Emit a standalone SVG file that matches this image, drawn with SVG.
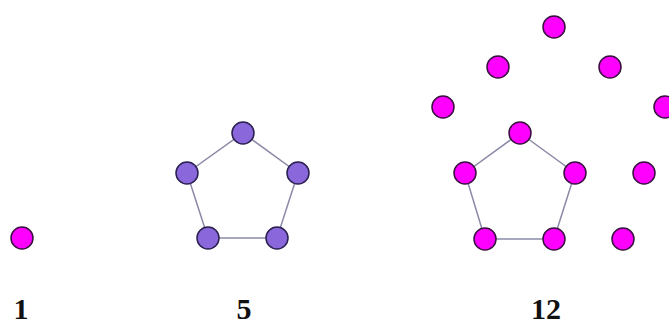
<svg xmlns="http://www.w3.org/2000/svg" width="669" height="324" viewBox="0 0 669 324">
<style>
.m{fill:#ff00ff;stroke:#3a1040;stroke-width:1.5}
.p{fill:#8a68dc;stroke:#2a2050;stroke-width:1.5}
.e{stroke:#8a8aa8;stroke-width:1.5;fill:none}
.t{font-family:"Liberation Serif",serif;font-weight:bold;font-size:30px;fill:#111;text-anchor:middle}
</style>
<rect width="669" height="324" fill="#fff"/>
<g id="connectors">
<polygon class="e" points="243,133 298,173 277,238 208,238 187,173"/>
<polygon class="e" points="520,133 575,173 554,239 485,239 465,173"/>
</g>
<g id="graph1"><circle class="m" cx="22" cy="238" r="11"/></g>
<g id="graph5">
<circle class="p" cx="243" cy="133" r="11"/>
<circle class="p" cx="298" cy="173" r="11"/>
<circle class="p" cx="277" cy="238" r="11"/>
<circle class="p" cx="208" cy="238" r="11"/>
<circle class="p" cx="187" cy="173" r="11"/>
</g>
<g id="graph12">
<circle class="m" cx="520" cy="133" r="11"/>
<circle class="m" cx="575" cy="173" r="11"/>
<circle class="m" cx="554" cy="239" r="11"/>
<circle class="m" cx="485" cy="239" r="11"/>
<circle class="m" cx="465" cy="173" r="11"/>
<circle class="m" cx="554" cy="27" r="11"/>
<circle class="m" cx="498" cy="67" r="11"/>
<circle class="m" cx="610" cy="67" r="11"/>
<circle class="m" cx="443" cy="107" r="11"/>
<circle class="m" cx="665" cy="107" r="11"/>
<circle class="m" cx="644" cy="173" r="11"/>
<circle class="m" cx="623" cy="239" r="11"/>
</g>
<g id="labels">
<text class="t" x="21" y="319">1</text>
<text class="t" x="244" y="319">5</text>
<text class="t" x="546" y="319">12</text>
</g>
</svg>
